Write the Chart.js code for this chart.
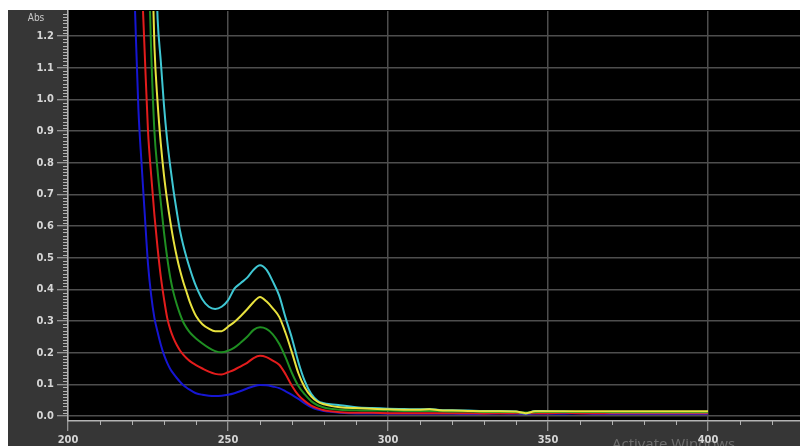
<!DOCTYPE html>
<html>
<head>
<meta charset="utf-8">
<title>UV-Vis spectra</title>
<script src="https://cdn.jsdelivr.net/npm/chart.js@4.4.1/dist/chart.umd.min.js"></script>
<style>
  html, body { margin: 0; padding: 0; background: #fff; }
  #plot { display: block; }
</style>
</head>
<body>
<canvas id="plot" width="800" height="446"></canvas>
<script>
// Wavelength grid (nm), shared by all five spectra
const wavelengths = [
  220, 221, 222, 223, 224, 225, 226, 227, 228, 229,
  230, 231, 232, 233, 234, 235, 236, 237, 238, 239,
  240, 242, 244, 246, 248, 250, 252, 254, 256, 258,
  260, 262, 264, 266, 268, 270, 272, 274, 276, 278,
  280, 282, 285, 290, 295, 300, 305, 310, 313, 316,
  320, 325, 330, 335, 340, 343, 346, 350, 355, 360,
  365, 370, 375, 380, 385, 390, 395, 400
];

// Absorbance of each sample (null = above the recorded range)
const absBlue = [
  1.58, 1.265, 0.97, 0.795, 0.635, 0.48, 0.38, 0.31, 0.265, 0.225,
  0.193, 0.168, 0.148, 0.133, 0.12, 0.108, 0.098, 0.09, 0.083, 0.077,
  0.072, 0.067, 0.064, 0.063, 0.064, 0.067, 0.072, 0.079, 0.087, 0.094,
  0.098, 0.097, 0.093, 0.088, 0.078, 0.067, 0.054, 0.04, 0.028, 0.02,
  0.016, 0.013, 0.01, 0.008, 0.008, 0.007, 0.007, 0.007, 0.007, 0.007,
  0.007, 0.006, 0.007, 0.008, 0.007, 0.006, 0.007, 0.007, 0.007, 0.008,
  0.006, 0.006, 0.006, 0.006, 0.006, 0.006, 0.006, 0.006
];
const absRed = [
  null, null, null, 1.39, 1.14, 0.9, 0.76, 0.635, 0.53, 0.44,
  0.37, 0.31, 0.272, 0.245, 0.224, 0.207, 0.194, 0.183, 0.174, 0.167,
  0.161, 0.15, 0.14, 0.133, 0.131, 0.138, 0.146, 0.157, 0.168, 0.183,
  0.19, 0.186, 0.175, 0.162, 0.132, 0.095, 0.066, 0.047, 0.033, 0.024,
  0.018, 0.015, 0.012, 0.01, 0.01, 0.009, 0.009, 0.009, 0.009, 0.009,
  0.009, 0.009, 0.008, 0.009, 0.009, 0.009, 0.009, 0.009, 0.01, 0.009,
  0.009, 0.009, 0.009, 0.009, 0.009, 0.009, 0.009, 0.009
];
const absGreen = [
  null, null, null, null, null, 1.5, 1.15, 0.9, 0.775, 0.675,
  0.58, 0.5, 0.435, 0.388, 0.352, 0.322, 0.297, 0.279, 0.265, 0.254,
  0.245, 0.229, 0.215, 0.205, 0.201, 0.206, 0.216, 0.232, 0.25, 0.272,
  0.28, 0.275, 0.258, 0.228, 0.185, 0.135, 0.095, 0.068, 0.047, 0.034,
  0.027, 0.023, 0.02, 0.018, 0.017, 0.017, 0.016, 0.016, 0.016, 0.015,
  0.014, 0.014, 0.013, 0.013, 0.012, 0.011, 0.012, 0.013, 0.013, 0.013,
  0.013, 0.013, 0.013, 0.013, 0.013, 0.013, 0.013, 0.013
];
const absYellow = [
  null, null, null, null, null, null, 1.55, 1.17, 0.99, 0.86,
  0.76, 0.68, 0.612, 0.553, 0.503, 0.46, 0.424, 0.393, 0.362, 0.337,
  0.316, 0.29, 0.276, 0.268, 0.268, 0.282, 0.297, 0.316, 0.337, 0.36,
  0.376, 0.362, 0.34, 0.313, 0.262, 0.2, 0.135, 0.09, 0.062, 0.045,
  0.037, 0.032, 0.028, 0.025, 0.023, 0.021, 0.02, 0.02, 0.021, 0.018,
  0.017, 0.016, 0.015, 0.015, 0.014, 0.009, 0.015, 0.015, 0.015, 0.015,
  0.015, 0.015, 0.015, 0.015, 0.015, 0.015, 0.015, 0.015
];
const absCyan = [
  null, null, null, null, null, null, null, 1.55, 1.255, 1.12,
  0.98, 0.87, 0.785, 0.71, 0.645, 0.585, 0.54, 0.502, 0.468, 0.437,
  0.41, 0.368, 0.345, 0.338, 0.345, 0.365, 0.402, 0.42, 0.437, 0.462,
  0.476, 0.462, 0.425, 0.38, 0.31, 0.245, 0.17, 0.11, 0.07, 0.048,
  0.04, 0.037, 0.034, 0.028, 0.025, 0.023, 0.022, 0.021, 0.022, 0.019,
  0.018, 0.017, 0.016, 0.016, 0.014, 0.008, 0.016, 0.015, 0.014, 0.013,
  0.013, 0.012, 0.012, 0.012, 0.012, 0.012, 0.012, 0.012
];

// Axis ticks
const xTickValues = [200, 250, 300, 350, 400];
const xTickLabels = ['200', '250', '300', '350', '400'];
const yTickValues = [0, 0.1, 0.2, 0.3, 0.4, 0.5, 0.6, 0.7, 0.8, 0.9, 1.0, 1.1, 1.2];
const yTickLabels = ['0.0', '0.1', '0.2', '0.3', '0.4', '0.5', '0.6', '0.7', '0.8', '0.9', '1.0', '1.1', '1.2'];
const yAxisCaption = 'Abs';

// Visible ranges
const X_MIN = 200, X_MAX = 428.75;
const Y_MIN = -0.0158, Y_MAX = 1.279;

const AXIS_GREY = '#b4b4b4';
const GRID_GREY = '#4e4e4e';
const LABEL_GREY = '#d6d6d6';
const TICK_FONT = { family: '"Liberation Sans Narrow", "DejaVu Sans Condensed", "Liberation Sans", sans-serif', size: 11, weight: 'bold' };

const toPoints = values => wavelengths.map((w, i) => ({ x: w, y: values[i] }));

// Dark panel with black plotting field
const backdrop = {
  id: 'backdrop',
  beforeDraw(chart) {
    const { ctx, chartArea: a, width, height } = chart;
    ctx.save();
    ctx.fillStyle = '#ffffff';
    ctx.fillRect(0, 0, width, height);
    ctx.fillStyle = '#363636';
    ctx.fillRect(8, 10, width - 8, height - 10);
    ctx.fillStyle = '#000000';
    ctx.fillRect(a.left, a.top - 1, a.right - a.left, a.bottom - a.top + 1);
    ctx.restore();
  }
};

// Minor tick marks, the axis caption and the system overlay line
const extras = {
  id: 'extras',
  afterDraw(chart) {
    const { ctx, chartArea: a, scales: { x, y } } = chart;
    ctx.save();
    ctx.strokeStyle = AXIS_GREY;
    ctx.lineWidth = 1;
    ctx.beginPath();
    for (let v = 210; v <= X_MAX; v += 10) {
      if (v % 50 === 0) continue;
      const px = Math.round(x.getPixelForValue(v)) + 0.5;
      ctx.moveTo(px, a.bottom);
      ctx.lineTo(px, a.bottom + 4);
    }
    for (let i = 1; i <= 127; i++) {
      if (i % 10 === 0) continue;
      const py = Math.round(y.getPixelForValue(i / 100)) + 0.5;
      ctx.moveTo(a.left - 5, py);
      ctx.lineTo(a.left - 1, py);
    }
    ctx.stroke();

    ctx.fillStyle = '#c8c8c8';
    ctx.font = '10px "Liberation Sans Narrow", "DejaVu Sans Condensed", sans-serif';
    ctx.textAlign = 'center';
    ctx.textBaseline = 'middle';
    ctx.fillText(yAxisCaption, 36, 18);

    ctx.fillStyle = 'rgba(200,200,200,0.38)';
    ctx.font = '15px "Open Sans", "Noto Sans", sans-serif';
    ctx.textAlign = 'left';
    ctx.textBaseline = 'alphabetic';
    ctx.fillText('Activate Windows', 612, 449);
    ctx.restore();
  }
};

const line = (values, color) => ({
  data: toPoints(values),
  borderColor: color,
  borderWidth: 2,
  pointRadius: 0,
  fill: false,
  spanGaps: false,
  cubicInterpolationMode: 'monotone'
});

new Chart(document.getElementById('plot'), {
  type: 'line',
  data: {
    datasets: [
      line(absYellow, '#e8e23e'),
      line(absGreen, '#1f8f22'),
      line(absCyan, '#3fc7d3'),
      line(absRed, '#e31c1c'),
      line(absBlue, '#1616d2')
    ]
  },
  options: {
    responsive: false,
    animation: false,
    devicePixelRatio: 1,
    layout: { padding: { left: 0, right: 0, top: 11, bottom: 0 } },
    plugins: { legend: { display: false }, tooltip: { enabled: false } },
    scales: {
      x: {
        type: 'linear',
        min: X_MIN,
        max: X_MAX,
        afterBuildTicks: s => { s.ticks = xTickValues.map(v => ({ value: v })); },
        afterFit: s => { s.height = 25; },
        ticks: {
          color: LABEL_GREY,
          font: TICK_FONT,
          padding: 3,
          maxRotation: 0,
          autoSkip: false,
          callback: (v, i) => xTickLabels[i]
        },
        grid: {
          color: GRID_GREY,
          lineWidth: 1.5,
          tickLength: 10,
          tickColor: AXIS_GREY,
          tickWidth: 1
        },
        border: { color: AXIS_GREY, width: 1.5 }
      },
      y: {
        type: 'linear',
        min: Y_MIN,
        max: Y_MAX,
        afterBuildTicks: s => { s.ticks = yTickValues.map(v => ({ value: v })); },
        afterFit: s => { s.width = 68; },
        ticks: {
          color: LABEL_GREY,
          font: TICK_FONT,
          padding: 3,
          autoSkip: false,
          callback: (v, i) => yTickLabels[i]
        },
        grid: {
          color: GRID_GREY,
          lineWidth: 1.5,
          tickLength: 11,
          tickColor: AXIS_GREY,
          tickWidth: 1
        },
        border: { color: AXIS_GREY, width: 1.5 }
      }
    }
  },
  plugins: [backdrop, extras]
});
</script>
</body>
</html>
